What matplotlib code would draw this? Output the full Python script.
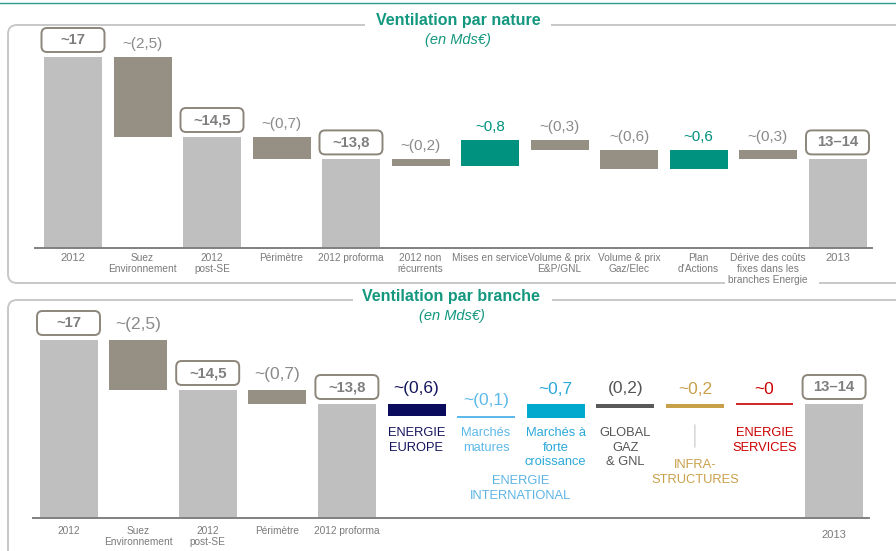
import matplotlib
matplotlib.use('Agg')
import matplotlib.pyplot as plt
from matplotlib.patches import FancyBboxPatch, PathPatch
from matplotlib.path import Path
from matplotlib import font_manager as fm

# ---- data ----
nature_cats = ['2012', 'Suez\nEnvironnement', '2012\npost-SE', 'Périmètre', '2012 proforma',
               '2012 non\nrécurrents', 'Mises en service', 'Volume & prix\nE&P/GNL',
               'Volume & prix\nGaz/Elec', 'Plan\nd\u2019Actions',
               'Dérive des coûts\nfixes dans les\nbranches Energie', '2013']
nature_values = [17, -2.5, 14.5, -0.7, 13.8, -0.2, 0.8, -0.3, -0.6, 0.6, -0.3, 13.8]
nature_totals = [True, False, True, False, True, False, False, False, False, False, False, True]
nature_text = ['~17', '~(2,5)', '~14,5', '~(0,7)', '~13,8', '~(0,2)', '~0,8', '~(0,3)',
               '~(0,6)', '~0,6', '~(0,3)', '13\u201314']

branche_cats = ['2012', 'Suez\nEnvironnement', '2012\npost-SE', 'Périmètre', '2012 proforma',
                '', '', '', '', '', '', '2013']
branche_values = [17, -2.5, 14.5, -0.7, 13.8, -0.6, -0.1, 0.7, -0.2, 0.2, 0.0, 13.8]
branche_totals = [True, False, True, False, True, False, False, False, False, False, False, True]
branche_text = ['~17', '~(2,5)', '~14,5', '~(0,7)', '~13,8', '~(0,6)', '~(0,1)', '~0,7',
                '(0,2)', '~0,2', '~0', '13\u201314']
branche_names = ['ENERGIE\nEUROPE', 'Marchés\nmatures', 'Marchés à\nforte\ncroissance',
                 'GLOBAL\nGAZ\n& GNL', 'INFRA-\nSTRUCTURES', 'ENERGIE\nSERVICES']
branche_colors = ['#0B0B5E', '#5DB9E9', '#00A9CD', '#595959', '#C9A04A', '#CC0000']
branche_text_colors = ['#14145E', '#5DB9E9', '#2AA8D8', '#555555', '#C9A04A', '#CC0000']

# ---- style ----
TOTAL = '#BFBFBF'
NEG = '#958F84'
TEAL = '#00917F'
GREY_TXT = '#8A8A8A'
CAT_TXT = '#7A7A7A'
PX = 0.72  # points per pixel at dpi 100

names = {f.name for f in fm.fontManager.ttflist}
if 'Liberation Sans Narrow' in names:
    NARROW, NK = 'Liberation Sans Narrow', 1.0
else:
    NARROW, NK = 'Liberation Sans', 0.84
plt.rcParams['font.family'] = ['Liberation Sans', 'DejaVu Sans']

fig = plt.figure(figsize=(8.96, 5.51), dpi=100)
W, H = 896, 551

# background layer in pixel coordinates (frames + titles)
bg = fig.add_axes([0, 0, 1, 1], zorder=0)
bg.set_xlim(0, W)
bg.set_ylim(H, 0)
bg.axis('off')
bg.plot([0, W], [2.5, 2.5], color='#2E9C8C', lw=1.0)

r = 9
C = Path
top_frame = Path(
    [(365, 25), (8 + r, 25), (8, 25), (8, 25 + r), (8, 283 - r), (8, 283), (8 + r, 283), (725, 283),
     (551, 25), (W, 25), (819, 283), (W, 283)],
    [C.MOVETO, C.LINETO, C.CURVE3, C.CURVE3, C.LINETO, C.CURVE3, C.CURVE3, C.LINETO,
     C.MOVETO, C.LINETO, C.MOVETO, C.LINETO])
bot_frame = Path(
    [(353, 300), (8 + r, 300), (8, 300), (8, 300 + r), (8, 570), (552, 300), (W, 300)],
    [C.MOVETO, C.LINETO, C.CURVE3, C.CURVE3, C.LINETO, C.MOVETO, C.LINETO])
for p in (top_frame, bot_frame):
    bg.add_patch(PathPatch(p, facecolor='none', edgecolor='#C8C8C8', lw=1.4))

bg.text(458, 20, 'Ventilation par nature', ha='center', va='center', fontsize=11.5,
        fontweight='bold', color='#13977F')
bg.text(458, 40, '(en Mds€)', ha='center', va='center', fontsize=10.5, style='italic',
        color='#13977F')
bg.text(451, 297, 'Ventilation par branche', ha='center', va='center', fontsize=11.5,
        fontweight='bold', color='#13977F')
bg.text(452, 316, '(en Mds€)', ha='center', va='center', fontsize=10.5, style='italic',
        color='#13977F')


def waterfall(values, totals):
    bottoms, heights, level = [], [], 0
    for v, t in zip(values, totals):
        if t:
            bottoms.append(0)
            heights.append(v)
            level = v
        else:
            bottoms.append(level + min(v, 0))
            heights.append(abs(v))
            level += v
    return bottoms, heights


def panel(left, right, bottom, top, x0, step, yref, yref_px, ppu,
          values, totals, texts, colors, txt_colors, cats, big, val_size, val_off, cat_off):
    ax = fig.add_axes([left / W, (H - bottom) / H, (right - left) / W, (bottom - top) / H],
                      zorder=1)
    ax.patch.set_alpha(0)
    ymin = yref - (bottom - yref_px) / ppu
    ax.set_ylim(ymin, ymin + (bottom - top) / ppu)
    ax.set_xlim((left - x0) / step, (right - x0) / step)
    for s in ['top', 'right', 'left']:
        ax.spines[s].set_visible(False)
    ax.spines['bottom'].set_color('#808080')
    ax.spines['bottom'].set_linewidth(1.4)
    ax.set_xticks([])
    ax.set_yticks([])

    bw = 58 / step
    bottoms, heights = waterfall(values, totals)
    for i, (b, h) in enumerate(zip(bottoms, heights)):
        tp = b + h
        if h == 0:
            ax.hlines(b, i - bw / 2, i + bw / 2, color=colors[i], lw=1.2)
        else:
            ax.bar(i, h, bottom=b, width=bw, color=colors[i], linewidth=0)
        if totals[i]:
            bh = 24 / ppu
            bwid = 63 / step
            y0 = tp + 5 / ppu
            ax.add_patch(FancyBboxPatch((i - bwid / 2, y0), bwid, bh,
                                        boxstyle='round,pad=0,rounding_size=0.08',
                                        mutation_aspect=step / ppu, facecolor='white',
                                        edgecolor='#8C857A', lw=1.4, zorder=3, clip_on=False))
            ax.text(i, y0 + bh / 2, texts[i], ha='center', va='center', family=NARROW,
                    fontweight='bold', fontsize=12.8 * NK, color='#7F7F7F', zorder=4,
                    clip_on=False)
        else:
            ax.annotate(texts[i], (i, tp), xytext=(0, val_off * PX), textcoords='offset points',
                        ha='center', va='center', fontsize=val_size, color=txt_colors[i])
        if cats[i]:
            ax.annotate(cats[i], (i, ymin), xytext=(0, -cat_off[i] * PX),
                        textcoords='offset points', ha='center', va='top', family=NARROW,
                        fontsize=(9.5 if i in big else 8.7) * NK, color=CAT_TXT,
                        linespacing=1.15, annotation_clip=False)
    return ax, bottoms, heights


# ---- top panel: par nature ----
n_colors = [TOTAL if t else (TEAL if v > 0 else NEG) for v, t in zip(nature_values, nature_totals)]
n_txt = [GREY_TXT if v <= 0 else TEAL for v in nature_values]
panel(35, 872, 248, 30, 73, 69.5, 17, 57, 32,
      nature_values, nature_totals, nature_text, n_colors, n_txt, nature_cats,
      big={0, 11}, val_size=11, val_off=13, cat_off=[5] * 12)

# ---- bottom panel: par branche ----
b_colors = [TOTAL if t else NEG for t in branche_totals]
b_txt = [GREY_TXT] * 12
for k in range(6):
    b_colors[5 + k] = branche_colors[k]
    b_txt[5 + k] = branche_text_colors[k]
cat_off = [8] * 12
cat_off[11] = 12
ax2, bots, hts = panel(33, 869, 518, 300, 68.5, 69.6, 17, 340, 20,
                       branche_values, branche_totals, branche_text, b_colors, b_txt,
                       branche_cats, big={11}, val_size=12.5, val_off=15, cat_off=cat_off)

anchor = min(bots[5:11])
for k, name in enumerate(branche_names):
    i = 5 + k
    off = 41 if k == 4 else 9
    ax2.annotate(name, (i, anchor), xytext=(0, -off * PX), textcoords='offset points',
                 ha='center', va='top', family=NARROW, fontsize=11 * NK,
                 color=branche_text_colors[k], linespacing=1.3)
# connector under INFRASTRUCTURES
ax2.annotate('', (9, anchor - 4 / 20), xytext=(9, anchor - 32 / 20),
             arrowprops=dict(arrowstyle='-', color='#C8C8C8', lw=0.8))
ax2.annotate('ENERGIE\nINTERNATIONAL', (6.5, anchor), xytext=(0, -57 * PX),
             textcoords='offset points', ha='center', va='top', family=NARROW,
             fontsize=11 * NK, color='#5DB4E5', linespacing=1.3)

fig.savefig('out.png', dpi=100)
